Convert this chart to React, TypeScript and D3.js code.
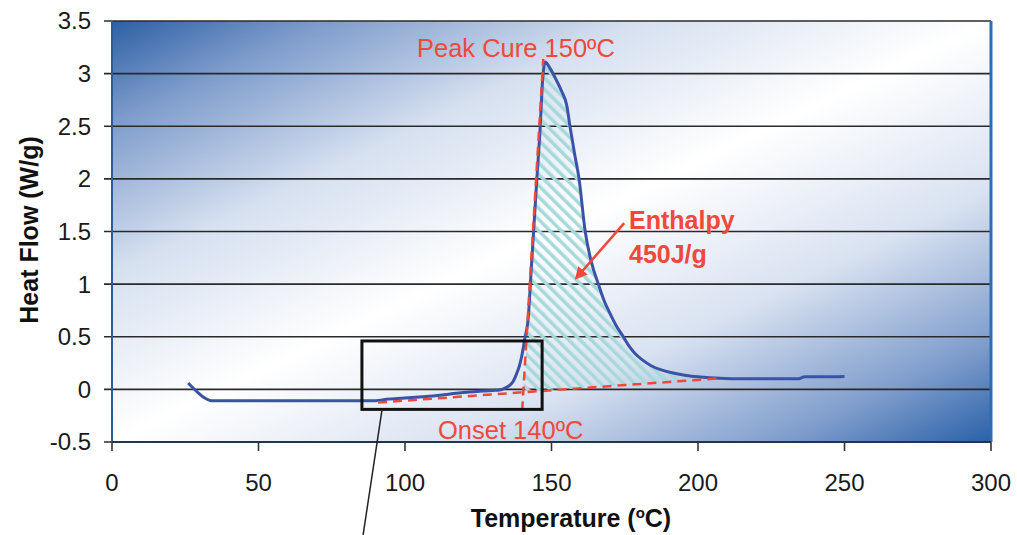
import React from "react";
import * as d3 from "d3";

// ---- data ----
const temperature = [26, 28.9, 31, 34, 40, 60, 80, 90, 93.7, 100, 106, 112, 117.6, 122, 126.6, 130, 132.4, 134, 135.8, 137, 138.1, 139, 139.8, 141, 142, 143, 144, 145, 146, 147, 147.8, 149.5, 151.8, 153.5, 155.2, 156.3, 157.8, 159.4, 161.5, 163.5, 166, 168, 170, 172, 174.5, 176.5, 178.5, 181, 184, 187.5, 191.5, 196, 200.7, 207.5, 215, 225, 234, 236.5, 242, 250];
const heatFlow = [0.06, -0.02, -0.07, -0.107, -0.108, -0.108, -0.108, -0.107, -0.094, -0.083, -0.07, -0.055, -0.037, -0.025, -0.015, -0.01, -0.006, 0.01, 0.04, 0.08, 0.15, 0.22, 0.31, 0.5, 0.66, 1.1, 1.55, 2.0, 2.42, 2.95, 3.11, 3.05, 2.93, 2.83, 2.7, 2.5, 2.25, 2.0, 1.5, 1.22, 1.0, 0.84, 0.72, 0.61, 0.5, 0.41, 0.34, 0.28, 0.225, 0.185, 0.155, 0.132, 0.118, 0.105, 0.1, 0.1, 0.1, 0.12, 0.12, 0.122];

const baseline = [[90.8, -0.125], [207.5, 0.105]];
const tangent = [[140, -0.2], [147.2, 3.14]];
const zoomBox = { x0: 85.3, x1: 146.8, y0: -0.19, y1: 0.46 };
const leader = [[92.2, -0.186], [85.7, -1.383]];
const arrowPts = [[174.8, 1.58], [158.5, 1.06]];

const xTicks = [0, 50, 100, 150, 200, 250, 300];
const yTicks = [-0.5, 0, 0.5, 1, 1.5, 2, 2.5, 3, 3.5];
const xTickLabels = ["0", "50", "100", "150", "200", "250", "300"];
const yTickLabels = ["-0.5", "0", "0.5", "1", "1.5", "2", "2.5", "3", "3.5"];

const W = 1017, H = 535;
const L = 112, R = 991, T = 21, B = 442;

export default function App() {
  const x = d3.scaleLinear().domain([0, 300]).range([L, R]);
  const y = d3.scaleLinear().domain([-0.5, 3.5]).range([B, T]);

  const pts: [number, number][] = temperature.map((t, i) => [t, heatFlow[i]]);
  const line = d3.line<[number, number]>().x(d => x(d[0])).y(d => y(d[1])).curve(d3.curveMonotoneX);
  const straight = d3.line<number[]>().x(d => x(d[0])).y(d => y(d[1]));

  const bl = (t: number) => baseline[0][1] + (t - baseline[0][0]) * (baseline[1][1] - baseline[0][1]) / (baseline[1][0] - baseline[0][0]);
  const tg = (h: number) => tangent[0][0] + (h - tangent[0][1]) * (tangent[1][0] - tangent[0][0]) / (tangent[1][1] - tangent[0][1]);
  let ti = 140;
  for (let k = 0; k < 10; k++) ti = tg(bl(ti));
  const peakIdx = heatFlow.indexOf(d3.max(heatFlow) as number);
  const endT = baseline[1][0];
  const curveRight = pts.slice(peakIdx).filter(p => p[0] <= endT);
  const curvePart = line(curveRight) || "";
  const hatchD = `M${x(ti)},${y(bl(ti))}L${curvePart.slice(1)}L${x(endT)},${y(bl(endT))}Z`;

  const red = "#f0483a";
  const blue = "#3a53a6";
  const font = "'Liberation Sans', Arial, sans-serif";

  const ax1 = x(arrowPts[0][0]), ay1 = y(arrowPts[0][1]);
  const ax2 = x(arrowPts[1][0]), ay2 = y(arrowPts[1][1]);

  return (
    <svg width={W} height={H} style={{ position: "absolute", left: 0, top: 0, background: "#fff" }} fontFamily={font}>
      <defs>
        <linearGradient id="bg" x1="0" y1="0" x2="1" y2="1">
          <stop offset="0" stopColor="#2d60a4" />
          <stop offset="0.12" stopColor="#7d9bcb" />
          <stop offset="0.3" stopColor="#d6e0f0" />
          <stop offset="0.5" stopColor="#ffffff" />
          <stop offset="0.7" stopColor="#d9e2f1" />
          <stop offset="0.88" stopColor="#7f9dcc" />
          <stop offset="1" stopColor="#2a61a8" />
        </linearGradient>
        <pattern id="hatch" patternUnits="userSpaceOnUse" width="8" height="8" patternTransform="rotate(-45)">
          <rect x="0" y="0" width="3.5" height="8" fill="#a6d9da" />
        </pattern>
        <marker id="arrow" viewBox="0 0 10 10" refX="8" refY="5" markerWidth="5" markerHeight="5" orient="auto" markerUnits="strokeWidth">
          <path d="M0,0L10,5L0,10Z" fill={red} />
        </marker>
      </defs>

      <rect x={L} y={T} width={R - L} height={B - T} fill="url(#bg)" />

      {yTicks.map(v => (
        <line key={v} x1={L - 8} x2={R} y1={y(v)} y2={y(v)} stroke="#2a2a2a" strokeWidth={1.6} />
      ))}
      <line x1={L} x2={L} y1={T} y2={B} stroke="#2b5b9a" strokeWidth={2} />
      <line x1={R} x2={R} y1={T} y2={B} stroke="#2f6db0" strokeWidth={3} />
      <line x1={L} x2={R} y1={B} y2={B} stroke="#1f3550" strokeWidth={2} />
      {xTicks.map(v => (
        <line key={v} x1={x(v)} x2={x(v)} y1={B} y2={B + 9} stroke="#333" strokeWidth={1.6} />
      ))}

      <path d={hatchD} fill="url(#hatch)" />

      <path d={line(pts) || ""} fill="none" stroke={blue} strokeWidth={3} strokeLinejoin="round" />

      <path d={straight(baseline) || ""} stroke={red} strokeWidth={2.5} strokeDasharray="9,6" fill="none" />
      <path d={straight(tangent) || ""} stroke={red} strokeWidth={2.5} strokeDasharray="9,6" fill="none" />

      <rect x={x(zoomBox.x0)} y={y(zoomBox.y1)} width={x(zoomBox.x1) - x(zoomBox.x0)} height={y(zoomBox.y0) - y(zoomBox.y1)} fill="none" stroke="#111" strokeWidth={3} />
      <path d={straight(leader) || ""} stroke="#222" strokeWidth={1.5} fill="none" />

      <line x1={ax1} y1={ay1} x2={ax2} y2={ay2} stroke={red} strokeWidth={2.5} markerEnd="url(#arrow)" />

      <text x={417} y={57} fill={red} fontSize={25.5}>Peak Cure 150ºC</text>
      <text x={438} y={439} fill={red} fontSize={25.5}>Onset 140ºC</text>
      <text x={629} y={229} fill={red} fontSize={25} fontWeight="bold">Enthalpy</text>
      <text x={629} y={263} fill={red} fontSize={25} fontWeight="bold">450J/g</text>

      {yTicks.map((v, i) => (
        <text key={v} x={91} y={y(v)} dy="0.35em" textAnchor="end" fontSize={24} fill="#1a1a1a">{yTickLabels[i]}</text>
      ))}
      {xTicks.map((v, i) => (
        <text key={v} x={x(v)} y={491} textAnchor="middle" fontSize={24} fill="#1a1a1a">{xTickLabels[i]}</text>
      ))}

      <text x={571} y={527} textAnchor="middle" fontSize={25} fontWeight="bold" fill="#111">
        Temperature (<tspan dy="-9" fontSize={15}>o</tspan><tspan dy="9">C)</tspan>
      </text>
      <text transform={`translate(38,230) rotate(-90)`} textAnchor="middle" fontSize={25} fontWeight="bold" fill="#111">Heat Flow (W/g)</text>
    </svg>
  );
}
